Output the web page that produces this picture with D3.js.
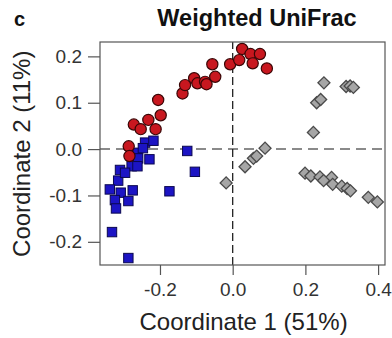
<!DOCTYPE html>
<html>
<head>
<meta charset="utf-8">
<script src="https://cdn.jsdelivr.net/npm/d3@7"></script>
<style>
  body { margin: 0; background: #fff; }
  text { font-family: Arial, "Liberation Sans", sans-serif; }
</style>
</head>
<body>
<div id="chart"></div>
<script>
// PCoA, weighted UniFrac - three sample groups
const redX = [-0.286, -0.284, -0.272, -0.253, -0.232, -0.212, -0.205, -0.198, -0.138, -0.131, -0.106, -0.097,
              -0.076, -0.072, -0.056, -0.048, -0.007, 0.018, 0.026, 0.049, 0.055, 0.075, 0.094];
const redY = [0.006, -0.015, 0.053, 0.043, 0.063, 0.043, 0.106, 0.073, 0.120, 0.138, 0.153, 0.142,
              0.145, 0.140, 0.183, 0.156, 0.183, 0.192, 0.216, 0.205, 0.185, 0.205, 0.174];

const blueX = [-0.241, -0.218, -0.262, -0.260, -0.278, -0.262, -0.229, -0.125, -0.104, -0.310, -0.315, -0.338,
               -0.308, -0.275, -0.324, -0.287, -0.321, -0.174, -0.332, -0.287, -0.247, -0.296];
const blueY = [0.014, 0.018, -0.008, -0.020, -0.037, -0.037, -0.022, -0.004, -0.049, -0.045, -0.068, -0.087,
               -0.094, -0.089, -0.110, -0.112, -0.128, -0.091, -0.179, -0.235, 0.002, -0.051];

const grayX = [-0.018, 0.034, 0.057, 0.066, 0.089, 0.222, 0.231, 0.242, 0.251, 0.312, 0.323, 0.332,
               0.199, 0.215, 0.240, 0.272, 0.275, 0.300, 0.315, 0.324, 0.373, 0.398, 0.250];
const grayY = [-0.073, -0.038, -0.020, -0.015, 0.002, 0.036, 0.100, 0.107, 0.143, 0.135, 0.136, 0.133,
               -0.052, -0.058, -0.060, -0.061, -0.076, -0.080, -0.085, -0.090, -0.104, -0.114, -0.068];

const xTicks = [-0.2, 0.0, 0.2, 0.4];
const yTicks = [-0.2, -0.1, 0.0, 0.1, 0.2];

const width = 392;
const height = 338;
const margin = {left: 100, right: 7, top: 42, bottom: 73};

const svg = d3.select("#chart")
  .append("svg")
  .attr("width", width)
  .attr("height", height);

const x = d3.scaleLinear()
  .domain([-0.365, 0.419])
  .range([margin.left, width - margin.right]);

const y = d3.scaleLinear()
  .domain([-0.25, 0.231])
  .range([height - margin.bottom, margin.top]);

// zero lines
svg.append("line")
  .attr("x1", x.range()[0]).attr("x2", x.range()[1])
  .attr("y1", y(0)).attr("y2", y(0))
  .attr("stroke", "#8a8a8a").attr("stroke-width", 2)
  .attr("stroke-dasharray", "10,6");

svg.append("line")
  .attr("x1", x(0)).attr("x2", x(0))
  .attr("y1", y.range()[0]).attr("y2", y.range()[1])
  .attr("stroke", "#222").attr("stroke-width", 1.3)
  .attr("stroke-dasharray", "8,4");

// points
const red = redX.map((v, i) => ({x: v, y: redY[i]}));
const blue = blueX.map((v, i) => ({x: v, y: blueY[i]}));
const gray = grayX.map((v, i) => ({x: v, y: grayY[i]}));

svg.append("g").selectAll("path")
  .data(gray).enter().append("path")
  .attr("d", d3.symbol(d3.symbolSquare, 72))
  .attr("transform", d => `translate(${x(d.x)},${y(d.y)}) rotate(45)`)
  .attr("fill", "#a6a6a6").attr("stroke", "#4a4a4a").attr("stroke-width", 1.3);

svg.append("g").selectAll("rect")
  .data(blue).enter().append("rect")
  .attr("x", d => x(d.x) - 4.7).attr("y", d => y(d.y) - 4.7)
  .attr("width", 9.4).attr("height", 9.4)
  .attr("fill", "#1c14c4").attr("stroke", "#0b0850").attr("stroke-width", 1);

svg.append("g").selectAll("circle")
  .data(red).enter().append("circle")
  .attr("cx", d => x(d.x)).attr("cy", d => y(d.y))
  .attr("r", 5.6)
  .attr("fill", "#c8171f").attr("stroke", "#3a0606").attr("stroke-width", 1.2);

// box
svg.append("rect")
  .attr("x", margin.left).attr("y", margin.top)
  .attr("width", width - margin.left - margin.right)
  .attr("height", height - margin.top - margin.bottom)
  .attr("fill", "none").attr("stroke", "#555").attr("stroke-width", 1.2);

// axes
const xAxis = svg.append("g")
  .attr("transform", `translate(0,${height - margin.bottom})`)
  .call(d3.axisBottom(x).tickValues(xTicks).tickFormat(d3.format(".1f")).tickSize(10).tickPadding(8));

const yAxis = svg.append("g")
  .attr("transform", `translate(${margin.left},0)`)
  .call(d3.axisLeft(y).tickValues(yTicks).tickFormat(d3.format(".1f")).tickSize(12).tickPadding(6));

[xAxis, yAxis].forEach(a => {
  a.select(".domain").remove();
  a.selectAll(".tick line").attr("stroke", "#555").attr("stroke-width", 1.2);
  a.selectAll(".tick text").attr("fill", "#333").style("font-size", "19px")
    .style("font-family", "Arial, 'Liberation Sans', sans-serif");
});
xAxis.selectAll(".tick text").text(d => d3.format(".1f")(d).replace("−", "-"));
yAxis.selectAll(".tick text").text(d => d3.format(".1f")(d).replace("−", "-"));

// labels
svg.append("text")
  .attr("x", x(0.03)).attr("y", 330)
  .attr("text-anchor", "middle")
  .attr("fill", "#222")
  .style("font-size", "24px")
  .text("Coordinate 1 (51%)");

svg.append("text")
  .attr("transform", `translate(30,${y(-0.01)}) rotate(-90)`)
  .attr("text-anchor", "middle")
  .attr("fill", "#222")
  .style("font-size", "24px")
  .text("Coordinate 2 (11%)");

svg.append("text")
  .attr("x", 257).attr("y", 26)
  .attr("text-anchor", "middle")
  .attr("fill", "#111")
  .style("font-size", "23.5px").style("font-weight", "bold")
  .text("Weighted UniFrac");

svg.append("text")
  .attr("x", 14).attr("y", 26)
  .attr("fill", "#111")
  .style("font-size", "20px").style("font-weight", "bold")
  .text("c");
</script>
</body>
</html>
